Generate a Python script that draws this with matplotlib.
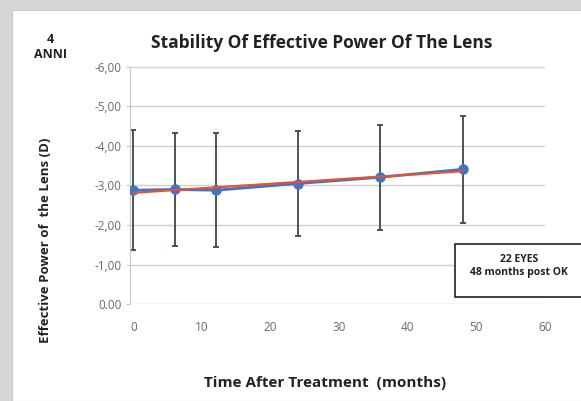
import numpy as np
import matplotlib.pyplot as plt
from matplotlib.patches import Rectangle

plt.rcParams['font.family'] = ['Open Sans', 'DejaVu Sans']

months = [0, 6, 12, 24, 36, 48]
power = [-2.88, -2.90, -2.88, -3.05, -3.21, -3.41]
sd = [1.52, 1.44, 1.44, 1.34, 1.33, 1.36]
yticks = [-6, -5, -4, -3, -2, -1, 0]
ytick_labels = ['-6,00', '-5,00', '-4,00', '-3,00', '-2,00', '-1,00', '0.00']
xticks = [0, 10, 20, 30, 40, 50, 60]

fig = plt.figure(figsize=(5.81, 4.01), dpi=100)
fig.patch.set_facecolor('#d4d6d8')
# white panel behind everything
fig.patches.append(Rectangle((12 / 581, 0), 1, 1 - 10 / 401, transform=fig.transFigure,
                             facecolor='white', edgecolor='#c9c9c9', lw=0.8, zorder=-1))

ax = fig.add_axes([130 / 581, 1 - 304 / 401, (545 - 130) / 581, (304 - 67) / 401])
ax.set_zorder(2)
ax.patch.set_alpha(0)

ax.errorbar(months, power, yerr=sd, fmt='none', ecolor='#3a4750', elinewidth=1.3,
            capsize=2.5, capthick=1.3, zorder=2)
ax.plot(months, power, color='#4472c4', lw=2, marker='o', ms=6.5, zorder=3)
# linear trend line
coef = np.polyfit(months, power, 1)
xs = np.array([months[0], months[-1]])
ax.plot(xs, np.polyval(coef, xs), color='#e0553a', lw=1.6, zorder=4)

ax.set_xlim(-0.5, 60)
ax.set_ylim(0, -6)
ax.set_yticks(yticks)
ax.set_yticklabels(ytick_labels)
ax.set_xticks(xticks)
ax.grid(axis='y', color='#d0d0d0', lw=1)
ax.set_axisbelow(True)
for s in ['top', 'right', 'bottom']:
    ax.spines[s].set_visible(False)
ax.spines['left'].set_color('#c8c8c8')
ax.tick_params(axis='y', length=3, color='#c8c8c8', labelsize=8.5, labelcolor='#6a6a6a', pad=3)
ax.tick_params(axis='x', length=0, labelsize=8.5, labelcolor='#6a6a6a', pad=12)

fig.text(322 / 581, 1 - 43 / 401, 'Stability Of Effective Power Of The Lens',
         ha='center', va='center', fontsize=12.5, fontweight='bold', color='#222222')
fig.text(50 / 581, 1 - 47 / 401, '4\nANNI', ha='center', va='center', fontsize=9,
         fontweight='bold', color='#222222', linespacing=1.15)
fig.text(46 / 581, 1 - 240 / 401, 'Effective Power of  the Lens (D)', rotation=90,
         ha='center', va='center', fontsize=9.5, fontweight='bold', color='#222222')
fig.text(325 / 581, 1 - 383 / 401, 'Time After Treatment  (months)',
         ha='center', va='center', fontsize=11, fontweight='bold', color='#222222')

fig.patches.append(Rectangle((455 / 581, 1 - 297 / 401), 130 / 581, 53 / 401,
                             transform=fig.transFigure, facecolor='white',
                             edgecolor='#333333', lw=1.3, zorder=5))
fig.text(519 / 581, 1 - 266 / 401, '22 EYES\n48 months post OK', ha='center', va='center',
         fontsize=7.5, fontweight='bold', color='#222222', linespacing=1.3, zorder=6)

fig.savefig('out.png', dpi=100, facecolor=fig.get_facecolor())
